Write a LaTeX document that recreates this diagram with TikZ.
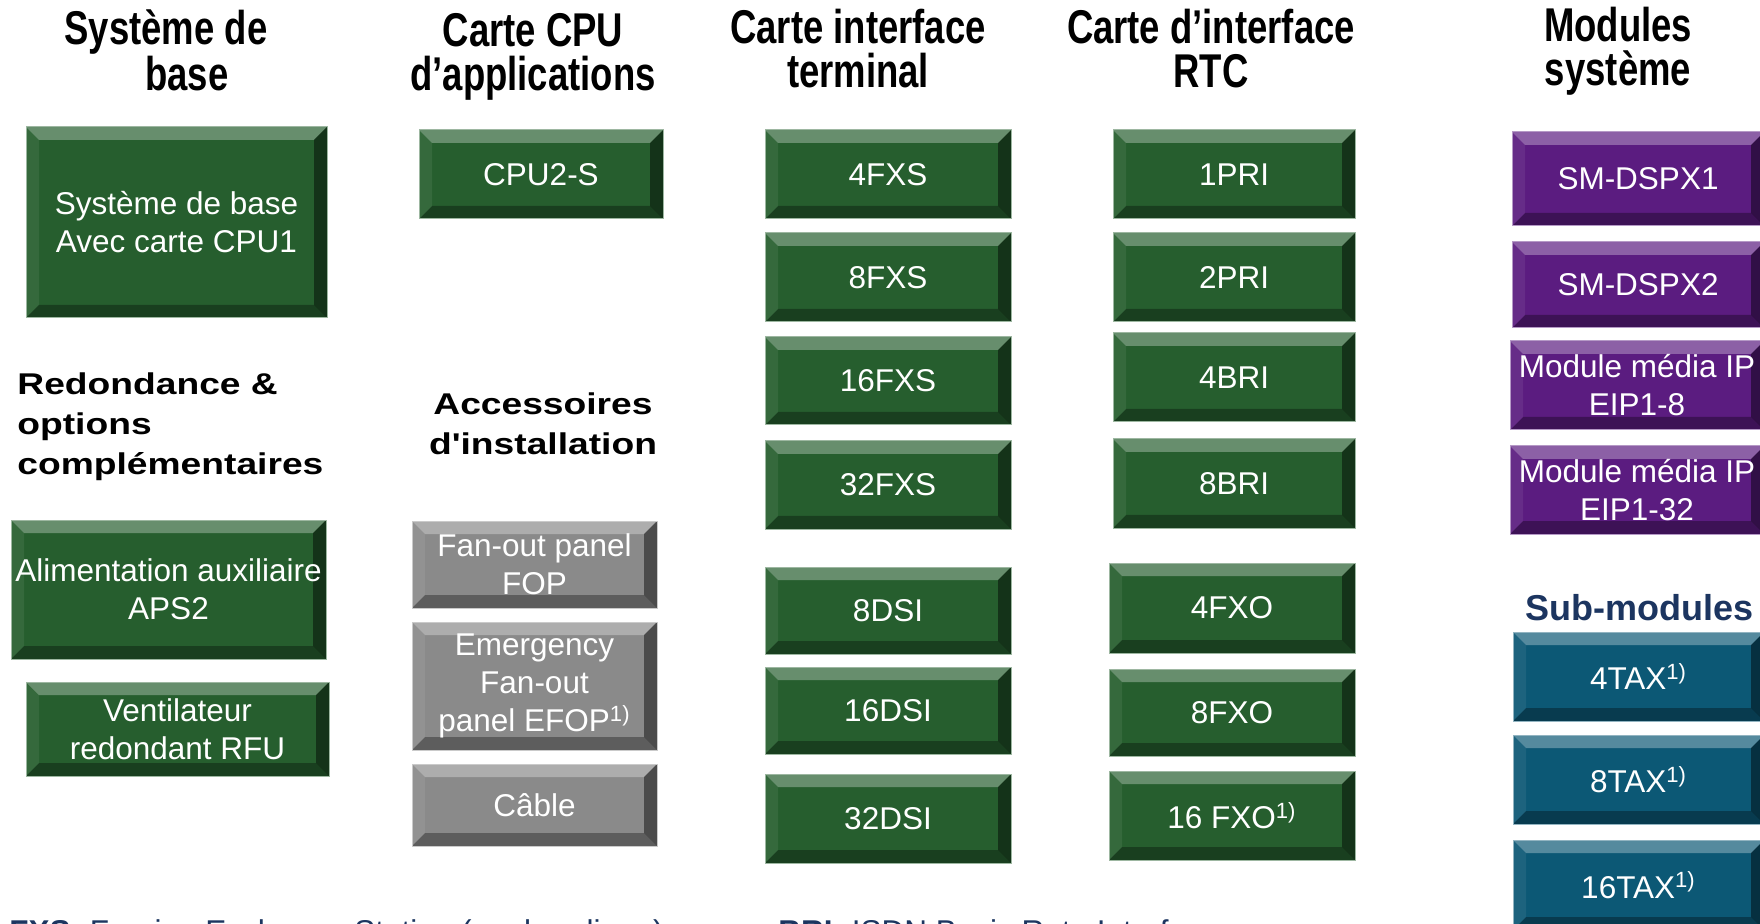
\documentclass[tikz,border=0pt]{standalone}
\usepackage{fontspec}
\setmainfont{Liberation Sans}
\newfontfamily\hdrfont[FakeStretch=0.77]{Liberation Sans}
\newfontfamily\subhfont[FakeStretch=1.24]{Liberation Sans}
\definecolor{bgreen}{RGB}{38,94,46}
\definecolor{bgray}{RGB}{138,138,138}
\definecolor{bpurple}{RGB}{91,28,128}
\definecolor{bteal}{RGB}{12,88,117}
\definecolor{legblue}{RGB}{28,53,96}
\def\bevw{6.5pt}
\newcommand\fnm{\textsuperscript{1)}}
\tikzset{
  bevel/.style={fill=#1, draw=#1!45!white, line width=0.5pt, inner sep=0pt,
    text=white, font=\fontsize{15.75}{19}\selectfont, align=center,
    path picture={
      \path (path picture bounding box.north west) coordinate (bnw)
            (path picture bounding box.north east) coordinate (bne)
            (path picture bounding box.south west) coordinate (bsw)
            (path picture bounding box.south east) coordinate (bse);
      \fill[white,opacity=.30] (bnw) -- (bne) -- ([shift={(-\bevw,-\bevw)}]bne) -- ([shift={(\bevw,-\bevw)}]bnw) -- cycle;
      \fill[black,opacity=.32] (bsw) -- (bse) -- ([shift={(-\bevw,\bevw)}]bse) -- ([shift={(\bevw,\bevw)}]bsw) -- cycle;
      \fill[black,opacity=.45] (bne) -- (bse) -- ([shift={(-\bevw,\bevw)}]bse) -- ([shift={(-\bevw,-\bevw)}]bne) -- cycle;
      \fill[white,opacity=.07] (bnw) -- (bsw) -- ([shift={(\bevw,\bevw)}]bsw) -- ([shift={(\bevw,-\bevw)}]bnw) -- cycle;
    }},
  hdr/.style={font=\hdrfont\bfseries\fontsize{23.7}{22}\selectfont, align=center, inner sep=0pt, anchor=base},
  subhdr/.style={font=\subhfont\bfseries\fontsize{15}{20}\selectfont, inner sep=0pt, anchor=base},
  legend/.style={text=legblue, font=\fontsize{15.75}{19}\selectfont, inner sep=0pt, anchor=base west}
}
\newcommand\mkbox[7]{%
  \pgfmathsetmacro\bxw{(#5-#3)*0.5}%
  \pgfmathsetmacro\bxh{(#6-#4)*0.5}%
  \node[bevel=#1, minimum width=\bxw pt, minimum height=\bxh pt] (#2) at ({(#3+#5)/2},{(#4+#6)/2}) {#7};}
\begin{document}
\begin{tikzpicture}[x=0.5pt,y=-0.5pt]
\useasboundingbox[fill=white] (0,0) rectangle (1760,924);

% headers (base = last line)
\node[hdr] (h1) at (166,91) {Système de\\\hspace*{21pt}base};
\node[hdr] (h2) at (533,91) {Carte CPU\\d’applications};
\node[hdr] (h3) at (858,88) {Carte interface\\terminal};
\node[hdr] (h4) at (1211,88) {Carte d’interface\\RTC};
\node[hdr] (h5) at (1618,86) {Modules\\système};
\node[subhdr, anchor=base west, align=left] (h6) at (17,475) {Redondance \&\\options\\complémentaires};
\node[subhdr, align=center] (h7) at (543,455) {Accessoires\\d'installation};
\node[inner sep=0pt, anchor=base, text=legblue, font=\bfseries\fontsize{18}{22}\selectfont] (h8) at (1639,620) {Sub-modules};

% column 1
\mkbox{bgreen}{sysbase}{26}{127}{327}{318}{Système de base\\Avec carte CPU1}
\mkbox{bgreen}{aps}{11}{520}{326}{659}{Alimentation auxiliaire\\APS2}
\mkbox{bgreen}{rfu}{26}{682}{329}{776}{Ventilateur\\redondant RFU}

% column 2
\mkbox{bgreen}{cpu}{419}{130}{663}{219}{CPU2-S}
\mkbox{bgray}{fop}{412}{521}{657}{608}{Fan-out panel\\FOP}
\mkbox{bgray}{efop}{412}{622}{657}{750}{Emergency\\Fan-out\\panel EFOP\fnm}
\mkbox{bgray}{cable}{412}{764}{657}{846}{Câble}

% column 3
\mkbox{bgreen}{fxs4}{765}{130}{1011}{219}{4FXS}
\mkbox{bgreen}{fxs8}{765}{233}{1011}{322}{8FXS}
\mkbox{bgreen}{fxs16}{765}{337}{1011}{425}{16FXS}
\mkbox{bgreen}{fxs32}{765}{441}{1011}{529}{32FXS}
\mkbox{bgreen}{dsi8}{765}{567}{1011}{654}{8DSI}
\mkbox{bgreen}{dsi16}{765}{667}{1011}{754}{16DSI}
\mkbox{bgreen}{dsi32}{765}{774}{1011}{863}{32DSI}

% column 4
\mkbox{bgreen}{pri1}{1113}{130}{1355}{219}{1PRI}
\mkbox{bgreen}{pri2}{1113}{233}{1355}{322}{2PRI}
\mkbox{bgreen}{bri4}{1113}{333}{1355}{422}{4BRI}
\mkbox{bgreen}{bri8}{1113}{439}{1355}{528}{8BRI}
\mkbox{bgreen}{fxo4}{1109}{563}{1355}{653}{4FXO}
\mkbox{bgreen}{fxo8}{1109}{669}{1355}{756}{8FXO}
\mkbox{bgreen}{fxo16}{1109}{771}{1355}{860}{16 FXO\fnm}

% column 5
\mkbox{bpurple}{dspx1}{1512}{132}{1764}{226}{SM-DSPX1}
\mkbox{bpurple}{dspx2}{1512}{242}{1764}{328}{SM-DSPX2}
\mkbox{bpurple}{eip8}{1510}{341}{1764}{430}{Module média IP\\EIP1-8}
\mkbox{bpurple}{eip32}{1510}{446}{1764}{534}{Module média IP\\EIP1-32}
\mkbox{bteal}{tax4}{1513}{632}{1764}{721}{4TAX\fnm}
\mkbox{bteal}{tax8}{1513}{735}{1764}{824}{8TAX\fnm}
\mkbox{bteal}{tax16}{1513}{840}{1764}{930}{16TAX\fnm}

% legend (cut by the lower edge)
\node[legend] (leg1) at (9,942) {\textbf{FXS:} Foreign Exchange Station (analog. ligne)};
\node[legend] (leg2) at (778,942) {\textbf{BRI:} ISDN Basic Rate Interface};
\end{tikzpicture}
\end{document}
